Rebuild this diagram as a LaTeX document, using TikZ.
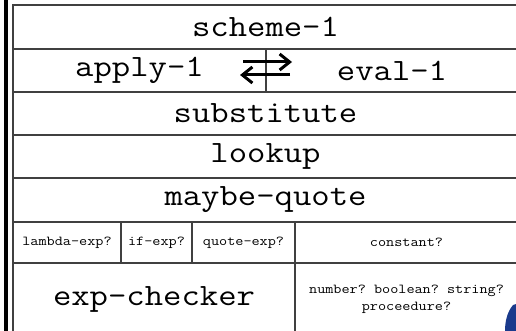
\documentclass[tikz,border=0pt]{standalone}
\usepackage{fontspec}
\setmonofont[FakeStretch=1.15]{Latin Modern Mono}
\usetikzlibrary{arrows.meta}
\definecolor{logoblue}{HTML}{1A3A8C}
\begin{document}
\begin{tikzpicture}[x=1pt,y=-1pt,
    cell/.style={draw=black!75,line width=1.2pt,inner sep=0pt,font=\ttfamily\fontsize{31}{36}\selectfont},
    small/.style={cell,font=\ttfamily\fontsize{13.7}{17}\selectfont,align=center},
    swap/.style={line width=3pt,-{Straight Barb[length=10pt,width=16pt]}}]
  \useasboundingbox (0,0) rectangle (516,331);
  \clip (0,0) rectangle (516,331);
  \fill (4,0) rectangle (7.5,331);

  \node[cell,minimum width=505pt,minimum height=44pt] (scheme) at (265.5,27) {scheme-1};
  \node[cell,minimum width=253pt,minimum height=43pt] (apply) at (139.5,70.5) {apply-1};
  \node[cell,minimum width=252pt,minimum height=43pt] (eval) at (392,70.5) {eval-1};
  \node[cell,minimum width=505pt,minimum height=43pt] (substitute) at (265.5,113.5) {substitute};
  \node[cell,minimum width=505pt,minimum height=43pt] (lookup) at (265.5,156.5) {lookup};
  \node[cell,minimum width=505pt,minimum height=44pt] (maybe) at (265.5,200) {maybe-quote};

  \node[small,minimum width=108pt,minimum height=41pt] (lambda) at (67,242.5) {lambda-exp?};
  \node[small,minimum width=71pt,minimum height=41pt] (if) at (156.5,242.5) {if-exp?};
  \node[small,minimum width=103pt,minimum height=41pt] (quote) at (243.5,242.5) {quote-exp?};
  \node[small,minimum width=223pt,minimum height=41pt] (constant) at (406.5,242.5) {constant?};

  \node[cell,minimum width=282pt,minimum height=72pt] (checker) at (154,299) {exp-checker};
  \node[small,minimum width=223pt,minimum height=72pt] (kinds) at (406.5,299) {number? boolean? string?\\proceedure?};

  % apply-1 <-> eval-1
  \coordinate (fwd a) at (243,62);
  \coordinate (fwd b) at (292,62);
  \coordinate (back a) at (290,75);
  \coordinate (back b) at (240,75);
  \draw[swap] (fwd a) -- (fwd b);
  \draw[swap] (back a) -- (back b);

  \fill[logoblue] (513,305) .. controls (507,312) and (505,322) .. (505,331) -- (516,331) -- (516,304) -- cycle;
\end{tikzpicture}
\end{document}
